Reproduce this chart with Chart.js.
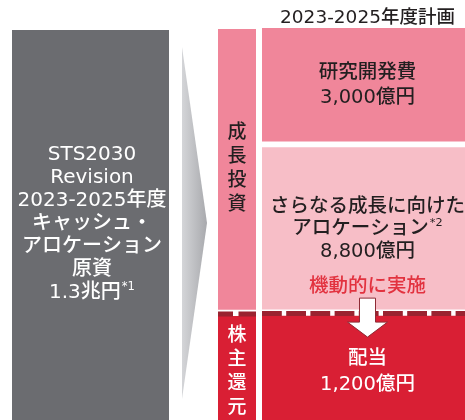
<!DOCTYPE html>
<html lang="ja">
<head>
<meta charset="utf-8">
<script src="https://cdn.jsdelivr.net/npm/chart.js@4.4.1/dist/chart.umd.min.js"></script>
<style>
  html, body { margin: 0; padding: 0; background: #fff; }
  #wrap { position: relative; width: 465px; height: 420px; overflow: hidden; }
  #wrap canvas, #flow { position: absolute; }
  #src  { left: 12px;  top: 30px; }
  #grp  { left: 218px; top: 29px; }
  #plan { left: 262px; top: 0; }
  /* gray wedge between source and plan */
  #flow { left: 182px; top: 47px; width: 25px; height: 352px;
          background: linear-gradient(to right, #d4d5d8, #a8a9ad);
          clip-path: polygon(0 0, 100% 50%, 0 100%); }
</style>
</head>
<body>
<div id="wrap">
  <canvas id="src" width="157" height="390"></canvas>
  <div id="flow"></div>
  <canvas id="grp" width="38" height="391"></canvas>
  <canvas id="plan" width="211" height="420"></canvas>
</div>
<script>
// ── Data ───────────────────────────────────────────────────
const planTitle = '2023-2025年度計画';

const sourceLines  = ['STS2030', 'Revision', '2023-2025年度', 'キャッシュ・', 'アロケーション', '原資'];
const sourceAmount = 13000;          // 億円
const sourceLabel  = '1.3兆円';
const sourceNote   = '*1';

const planNames   = [['研究開発費'], ['さらなる成長に向けた', 'アロケーション'], ['配当']];
const planNotes   = ['', '*2', ''];
const planAmounts = [3000, 8800, 1200];                 // 億円
const planLabels  = ['3,000億円', '8,800億円', '1,200億円'];
// share of the column each block takes in the drawing (schematic, not to scale)
const planShare   = [30.4, 43.1, 26.5];

const groupNames   = ['成長投資', '株主還元'];
const groupMembers = [[0, 1], [2]];
const flexNote     = '機動的に実施';

// ── Look ───────────────────────────────────────────────────
const FONT = '"DejaVu Sans", "Noto Sans CJK JP", sans-serif';
const INK = '#231f20';
const planColors  = ['#f0869a', '#f7bec7', '#d91f34'];
const planInk     = [INK, INK, '#ffffff'];
const groupColors = ['#f0869a', '#d91f34'];
const groupInk    = [INK, '#ffffff'];
const DASH = '#9a2330';
const GAP_RD = 6, GAP_SPLIT = 7;
const W = '500';

const font = (size, weight) => `${weight || W} ${size}px ${FONT}`;

function drawLine(ctx, x, y, text, sup, size, color) {
  ctx.font = font(size);
  const w = ctx.measureText(text).width;
  let sw = 0;
  if (sup) { ctx.font = font(size * 0.58); sw = ctx.measureText(sup).width + 1; }
  const x0 = x - (w + sw) / 2;
  ctx.fillStyle = color;
  ctx.textAlign = 'left';
  ctx.textBaseline = 'middle';
  ctx.font = font(size);
  ctx.fillText(text, x0, y);
  if (sup) {
    ctx.font = font(size * 0.58);
    ctx.fillText(sup, x0 + w + 1, y - size * 0.3);
  }
}

function boxOf(chart, di) {
  const el = chart.getDatasetMeta(di).data[0];
  return { x: el.x, top: Math.min(el.y, el.base), bottom: Math.max(el.y, el.base), w: el.width };
}

function dashedSplit(chart, pattern) {
  const { ctx, chartArea } = chart;
  const b = boxOf(chart, 0);               // bottom block (shareholder return)
  ctx.save();
  ctx.strokeStyle = DASH;
  ctx.lineWidth = 5;
  ctx.setLineDash(pattern);
  ctx.beginPath();
  ctx.moveTo(chartArea.left, b.top - 2.5);
  ctx.lineTo(chartArea.right, b.top - 2.5);
  ctx.stroke();
  ctx.restore();
}

function baseOptions(max) {
  return {
    responsive: false, animation: false, devicePixelRatio: 1,
    layout: { padding: 0 },
    plugins: { legend: { display: false }, tooltip: { enabled: false }, title: { display: false } },
    scales: {
      x: { display: false, stacked: true },
      y: { display: false, stacked: true, min: 0, max }
    }
  };
}

// ── Source column ──────────────────────────────────────────
new Chart(document.getElementById('src'), {
  type: 'bar',
  data: {
    labels: [''],
    datasets: [{ data: [sourceAmount], backgroundColor: '#6b6c70',
                 barPercentage: 1, categoryPercentage: 1 }]
  },
  options: baseOptions(sourceAmount),
  plugins: [{
    id: 'srcText',
    afterDatasetsDraw(chart) {
      const { ctx } = chart;
      const b = boxOf(chart, 0);
      const lines = sourceLines.concat([sourceLabel]);
      const step = 23;
      const y0 = (b.top + b.bottom) / 2 - 1 - step * (lines.length - 1) / 2;
      ctx.save();
      lines.forEach((t, i) =>
        drawLine(ctx, b.x + 1.5, y0 + i * step, t, i === lines.length - 1 ? sourceNote : '', 20, '#ffffff'));
      ctx.restore();
    }
  }]
});

// ── Group labels column ────────────────────────────────────
const groupShare = groupMembers.map(m => m.reduce((s, i) => s + planShare[i], 0));
const groupOrder = [1, 0];   // stacked bottom → top
new Chart(document.getElementById('grp'), {
  type: 'bar',
  data: {
    labels: [''],
    datasets: groupOrder.map(g => ({
      data: [groupShare[g]], backgroundColor: groupColors[g], group: g,
      borderColor: '#ffffff', borderSkipped: false,
      borderWidth: g === 0 ? { bottom: GAP_SPLIT, top: 0, left: 0, right: 0 } : 0,
      barPercentage: 1, categoryPercentage: 1
    }))
  },
  options: baseOptions(100),
  plugins: [{
    id: 'grpText',
    afterDatasetsDraw(chart) {
      const { ctx } = chart;
      dashedSplit(chart, [15, 5.5, 18, 5]);
      ctx.save();
      ctx.textAlign = 'center';
      ctx.textBaseline = 'middle';
      ctx.font = font(19);
      chart.data.datasets.forEach((ds, di) => {
        const b = boxOf(chart, di);
        const g = ds.group;
        const bottom = g === 0 ? b.bottom - GAP_SPLIT : b.bottom;
        const chars = [...groupNames[g]];
        const step = 23.8;
        const y0 = (b.top + bottom) / 2 + (g === 1 ? 4 : 0) - step * (chars.length - 1) / 2;
        ctx.fillStyle = groupInk[g];
        chars.forEach((c, i) => ctx.fillText(c, b.x, y0 + i * step));
      });
      ctx.restore();
    }
  }]
});

// ── Plan column ────────────────────────────────────────────
const planOrder = [2, 1, 0];   // stacked bottom → top
const planOpts = baseOptions(100);
planOpts.plugins.title = {
  display: true, text: planTitle, color: INK,
  font: { family: FONT, size: 18.5, weight: W, lineHeight: 1 },
  padding: { top: 9, bottom: 0.5 }
};
new Chart(document.getElementById('plan'), {
  type: 'bar',
  data: {
    labels: [''],
    datasets: planOrder.map(i => ({
      label: planNames[i].join(''), data: [planShare[i]], item: i,
      backgroundColor: planColors[i], borderColor: '#ffffff', borderSkipped: false,
      borderWidth: { top: 0, left: 0, right: 0, bottom: i === 0 ? GAP_RD : i === 1 ? GAP_SPLIT : 0 },
      barPercentage: 1, categoryPercentage: 1
    }))
  },
  options: planOpts,
  plugins: [{
    id: 'planText',
    afterDatasetsDraw(chart) {
      const { ctx } = chart;
      dashedSplit(chart, [19.8, 4.4]);
      ctx.save();
      chart.data.datasets.forEach((ds, di) => {
        const i = ds.item;
        const b = boxOf(chart, di);
        const bottom = b.bottom - (i === 0 ? GAP_RD : i === 1 ? GAP_SPLIT : 0);
        const lines = planNames[i].concat([planLabels[i]]);
        const step = i === 1 ? 22.7 : i === 0 ? 25 : 26;
        const shift = i === 2 ? 4 : 1;
        const y0 = (b.top + bottom) / 2 + shift - step * (lines.length - 1) / 2;
        lines.forEach((t, k) =>
          drawLine(ctx, b.x, y0 + k * step, t, k === planNames[i].length - 1 ? planNotes[i] : '', 19.5, planInk[i]));
        if (i === 1) {
          ctx.font = font(19.5);
          ctx.fillStyle = '#e2323f';
          ctx.textAlign = 'center';
          ctx.textBaseline = 'middle';
          ctx.fillText(flexNote, b.x, bottom - 22);
        }
      });

      // white arrow from the growth block into the dividend block
      const d = boxOf(chart, 0);
      const cx = d.x, t = d.top;
      ctx.beginPath();
      ctx.moveTo(cx - 8, t - 18);
      ctx.lineTo(cx + 8, t - 18);
      ctx.lineTo(cx + 8, t + 6);
      ctx.lineTo(cx + 20, t + 6);
      ctx.lineTo(cx, t + 21);
      ctx.lineTo(cx - 20, t + 6);
      ctx.lineTo(cx - 8, t + 6);
      ctx.closePath();
      ctx.fillStyle = '#ffffff';
      ctx.fill();
      ctx.strokeStyle = '#8e2b35';
      ctx.lineWidth = 1;
      ctx.stroke();
      ctx.restore();
    }
  }]
});
</script>
</body>
</html>
